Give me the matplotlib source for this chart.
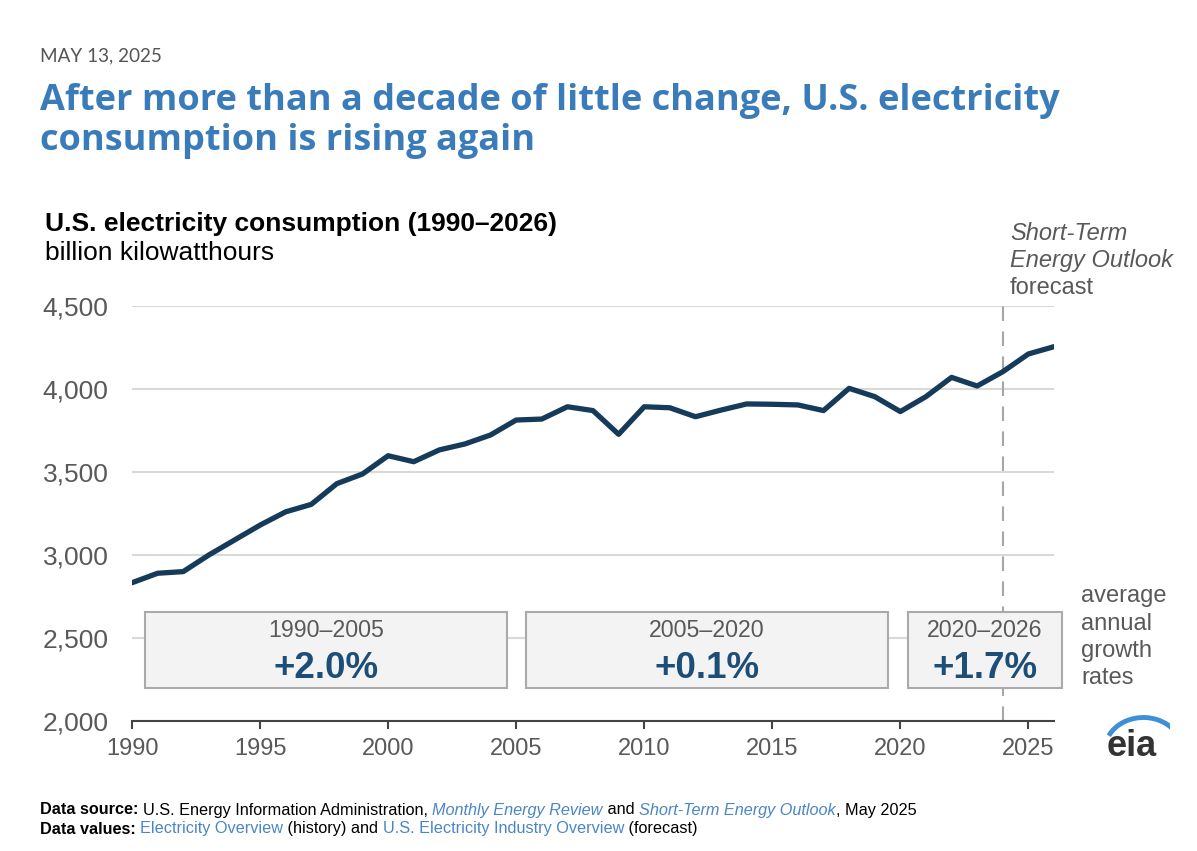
import matplotlib
matplotlib.use("Agg")
import matplotlib.pyplot as plt
from matplotlib.patches import Rectangle, Arc
from matplotlib.ticker import FuncFormatter

# ---------- data ----------
years = list(range(1990, 2027))
consumption = [2833, 2890, 2900, 3000, 3090, 3180, 3260, 3305, 3430, 3488,
               3598, 3562, 3633, 3669, 3723, 3813, 3819, 3893, 3870, 3727,
               3893, 3887, 3833, 3873, 3910, 3908, 3904, 3870, 4004, 3954,
               3864, 3954, 4070, 4018, 4104, 4211, 4255]

periods = ["1990\u20132005", "2005\u20132020", "2020\u20132026"]
growth = ["+2.0%", "+0.1%", "+1.7%"]
box_x = [(1990.5, 2004.65), (2005.4, 2019.5), (2020.3, 2026.3)]
box_y = (2200, 2655)
forecast_start = 2024

navy = "#163a59"
gray_txt = "#595959"
title_blue = "#3a7cb9"
link_blue = "#4a86c5"

fig = plt.figure(figsize=(11.97, 8.51), dpi=100)
ax = fig.add_axes([132/1197, 1-721/851, (1054-132)/1197, (721-306)/851])

ax.plot(years, consumption, color=navy, lw=3.8, solid_capstyle="round",
        solid_joinstyle="round", zorder=4)

ax.set_xlim(1990, 2026)
ax.set_ylim(2000, 4500)
ax.set_yticks([2000, 2500, 3000, 3500, 4000, 4500])
ax.yaxis.set_major_formatter(FuncFormatter(lambda v, p: f"{int(v):,}"))
ax.set_xticks(range(1990, 2030, 5))
for v in [2500, 3000, 3500, 4000, 4500]:
    ax.axhline(v, color="#d9d9d9", lw=1.5, zorder=1)

for s in ["left", "right", "top"]:
    ax.spines[s].set_visible(False)
ax.spines["bottom"].set_color("#444444")
ax.spines["bottom"].set_linewidth(1.5)
ax.tick_params(axis="y", length=0, pad=17, labelsize=19, labelcolor=gray_txt)
ax.tick_params(axis="x", length=6, width=1.5, color="#444444", pad=6.5,
               labelsize=17, labelcolor=gray_txt)
for lab in ax.get_xticklabels() + ax.get_yticklabels():
    lab.set_family("Liberation Sans")

# forecast divider
ax.plot([forecast_start, forecast_start], [2000, 4500], color="#a6a6a6",
        lw=1.5, ls=(0, (7, 5)), zorder=2, clip_on=False)

# growth-rate boxes
for (x0, x1), per, g in zip(box_x, periods, growth):
    ax.add_patch(Rectangle((x0, box_y[0]), x1 - x0, box_y[1] - box_y[0],
                           facecolor="#f3f3f3", edgecolor="#aaaaaa", lw=1.5,
                           zorder=3, clip_on=False))
    xc = (x0 + x1) / 2
    ax.text(xc, 2545, per, ha="center", va="center", fontsize=16.7,
            color=gray_txt, family="Liberation Sans", zorder=5)
    ax.text(xc, 2318, g, ha="center", va="center", fontsize=26.5,
            fontweight="bold", color="#1d4e78", family="Liberation Sans", zorder=5)

# side notes
for i, w in enumerate(["average", "annual", "growth", "rates"]):
    fig.text(1081/1197, 1 - (596 + 27.5*i)/851, w, ha="left", va="center",
             fontsize=17, color=gray_txt, family="Liberation Sans")
fig.text(1010/1197, 1 - 234/851, "Short-Term", ha="left", va="center",
         fontsize=17, style="italic", color=gray_txt, family="Liberation Sans")
fig.text(1010/1197, 1 - 261/851, "Energy Outlook", ha="left", va="center",
         fontsize=17, style="italic", color=gray_txt, family="Liberation Sans")
fig.text(1010/1197, 1 - 288/851, "forecast", ha="left", va="center",
         fontsize=17, color=gray_txt, family="Liberation Sans")

# headings
fig.text(40/1197, 1 - 56/851, "MAY 13, 2025", ha="left", va="center",
         fontsize=13.6, color="#555555", family="Lato")
fig.text(40/1197, 1 - 101/851, "After more than a decade of little change, U.S. electricity",
         ha="left", va="center", fontsize=26, fontweight="bold",
         color=title_blue, family="Open Sans")
fig.text(40/1197, 1 - 141/851, "consumption is rising again",
         ha="left", va="center", fontsize=26, fontweight="bold",
         color=title_blue, family="Open Sans")
fig.text(45/1197, 1 - 224/851, "U.S. electricity consumption (1990\u20132026)",
         ha="left", va="center", fontsize=19, fontweight="bold",
         color="black", family="Liberation Sans")
fig.text(45/1197, 1 - 253/851, "billion kilowatthours", ha="left", va="center",
         fontsize=19, color="black", family="Liberation Sans")

# eia logo
fig.text(1132/1197, 1 - 746/851, "eia", ha="center", va="center",
         fontsize=26, fontweight="bold", color="#333333", family="Liberation Sans")
logo = fig.add_axes([1100/1197, 1 - 760/851, 70/1197, 50/851])
logo.set_xlim(0, 1)
logo.set_ylim(0, 1)
logo.axis("off")
logo.add_patch(Arc((0.62, 0.2), 1.1, 1.3, theta1=20, theta2=150,
                   color="#3d8fd9", lw=3.5))

# footer (pieces laid out one after another)
renderer = fig.canvas.get_renderer()
footer = [
    [("Data source: ", "bold", "normal", "black"),
     ("U.S. Energy Information Administration, ", "normal", "normal", "black"),
     ("Monthly Energy Review", "normal", "italic", link_blue),
     (" and ", "normal", "normal", "black"),
     ("Short-Term Energy Outlook", "normal", "italic", link_blue),
     (", May 2025", "normal", "normal", "black")],
    [("Data values: ", "bold", "normal", "black"),
     ("Electricity Overview", "normal", "normal", link_blue),
     (" (history) and ", "normal", "normal", "black"),
     ("U.S. Electricity Industry Overview", "normal", "normal", link_blue),
     (" (forecast)", "normal", "normal", "black")],
]
for row, ypx in zip(footer, [810, 829]):
    xpx = 40
    for txt, wt, st, col in row:
        t = fig.text(xpx/1197, 1 - ypx/851, txt, ha="left", va="center",
                     fontsize=11.7, fontweight=wt, style=st, color=col,
                     family="Liberation Sans")
        xpx += t.get_window_extent(renderer=renderer).width

fig.savefig("out.png", dpi=100, facecolor="white")
